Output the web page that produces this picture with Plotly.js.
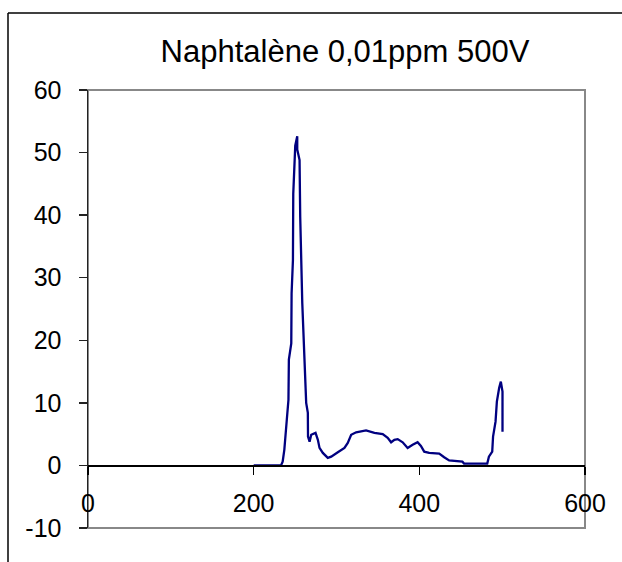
<!DOCTYPE html>
<html>
<head>
<meta charset="utf-8">
<script src="https://cdn.plot.ly/plotly-3.0.1.min.js"></script>
<style>html,body{margin:0;padding:0;background:#fff;}#chart{width:622px;height:562px;}</style>
</head>
<body>
<div id="chart"></div>
<script>
var chartTitle = "Naphtalène 0,01ppm 500V";
var xValues = [200, 233, 235, 237, 240, 242, 242.5, 245.4, 245.8, 247.4, 247.8, 249.4, 250.2, 252.6, 252.6, 255.4, 256.2, 258.7, 261.4, 263.4, 265.4, 265.6, 267.5, 269.5, 274.7, 277.5, 279.5, 283.5, 289.5, 293.6, 301.6, 309.6, 313.6, 317.7, 323.7, 335.7, 345.8, 355.8, 361.8, 365.9, 369.9, 373.9, 379.9, 385.9, 391.9, 397.9, 401.9, 405.9, 411.9, 424, 430, 436, 452, 454, 482, 484, 488, 489, 492, 493.6, 496.4, 498.4, 500.4, 500.4];
var yValues = [0, 0, 0.6, 2.5, 7.3, 10.5, 16.9, 19.5, 27.5, 32.8, 43.4, 48.8, 51.1, 52.6, 50.5, 48.8, 39.7, 25.9, 16.9, 10.0, 8.4, 4.6, 3.8, 4.9, 5.2, 4.1, 2.8, 2.0, 1.2, 1.4, 2.1, 2.8, 3.6, 4.9, 5.3, 5.6, 5.2, 5.0, 4.4, 3.7, 4.1, 4.2, 3.7, 2.8, 3.3, 3.7, 3.1, 2.2, 2.0, 1.9, 1.3, 0.8, 0.6, 0.3, 0.3, 1.4, 2.2, 4.6, 7.0, 10.2, 12.4, 13.4, 11.8, 5.4];
var xTicks = [0, 200, 400, 600];
var yTicks = [-10, 0, 10, 20, 30, 40, 50, 60];
var xRange = [0, 600];
var yRange = [-10, 60];

var W = 622, H = 562;
var m = {l: 88, r: 37, t: 90, b: 34};
var pw = W - m.l - m.r, ph = H - m.t - m.b;
function px2paperX(p) { return (p - m.l) / pw; }
function px2paperY(p) { return (H - m.b - p) / ph; }
var zeroFrac = (0 - yRange[0]) / (yRange[1] - yRange[0]);

var font = {family: "Liberation Sans, Arial, sans-serif", color: "#000"};

var data = [{
  x: xValues, y: yValues, type: "scatter", mode: "lines",
  line: {color: "#000080", width: 2.3}, hoverinfo: "skip"
}];

var layout = {
  width: W, height: H, margin: m,
  paper_bgcolor: "#fff", plot_bgcolor: "#fff",
  showlegend: false,
  title: {text: chartTitle, x: 345 / W, xanchor: "center", y: 1 - 51 / H, yanchor: "middle",
          font: {family: font.family, size: 31, color: "#000"}},
  xaxis: {
    range: xRange, tickvals: xTicks, ticktext: xTicks.map(String),
    anchor: "free", position: zeroFrac,
    showline: true, linecolor: "#000", linewidth: 1.3,
    ticks: "outside", ticklen: 8, tickcolor: "#000", tickwidth: 1.3,
    ticklabelstandoff: 7,
    showgrid: false, zeroline: false,
    tickfont: {family: font.family, size: 25, color: "#000"}
  },
  yaxis: {
    range: yRange, tickvals: yTicks, ticktext: yTicks.map(String),
    showline: true, linecolor: "#222", linewidth: 1.5,
    ticks: "outside", ticklen: 8, tickcolor: "#222", tickwidth: 1.3,
    ticklabelstandoff: 12,
    showgrid: false, zeroline: false,
    tickfont: {family: font.family, size: 25, color: "#000"}
  },
  shapes: [
    {type: "rect", xref: "paper", yref: "paper", x0: 0, x1: 1, y0: 0, y1: 1,
     line: {color: "#888", width: 2}, layer: "below"},
    {type: "line", xref: "paper", yref: "paper",
     x0: px2paperX(8), x1: px2paperX(8), y0: px2paperY(13), y1: px2paperY(H + 5),
     line: {color: "#000", width: 1.5}},
    {type: "line", xref: "paper", yref: "paper",
     x0: px2paperX(8), x1: px2paperX(W + 5), y0: px2paperY(13), y1: px2paperY(13),
     line: {color: "#000", width: 1.5}}
  ]
};

Plotly.newPlot("chart", data, layout, {staticPlot: true, displayModeBar: false});
</script>
</body>
</html>
